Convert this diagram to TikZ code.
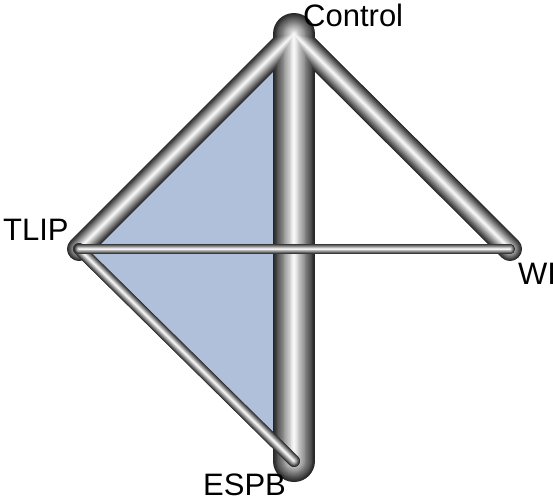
\documentclass[tikz,border=0pt]{standalone}
\usepackage{fontspec}
\setmainfont{Liberation Sans}
\definecolor{trifill}{HTML}{B0C0DA}
\begin{document}
\begin{tikzpicture}[x=1pt,y=-1pt,
  lbl/.style={inner sep=0pt, font=\fontsize{31}{37}\selectfont},
  tri/.style={fill=trifill},
  tube/.style={line cap=round}]
\useasboundingbox (0,0) rectangle (553,498);
\coordinate (C) at (294,34);
\coordinate (T) at (79,249);
\coordinate (W) at (510,249);
\coordinate (E) at (294,461);
\fill[tri] (C) -- (T) -- (E) -- cycle;
% main tubes, drawn level by level
\foreach \i in {0,...,23}{
  \pgfmathsetmacro\fr{1-\i/24}
  \pgfmathsetmacro\bri{1-0.85*\fr}
  \pgfmathsetmacro\wa{42*\fr}
  \pgfmathsetmacro\wb{24*\fr}
  \definecolor{lvl}{gray}{\bri}
  \draw[tube, lvl, line width=\wa pt] (C) -- (E);
  \draw[tube, lvl, line width=\wb pt] (C) -- (T);
  \draw[tube, lvl, line width=\wb pt] (C) -- (W);
}
\foreach \i in {0,...,23}{
  \pgfmathsetmacro\fr{1-\i/24}
  \pgfmathsetmacro\bri{1-0.85*\fr}
  \pgfmathsetmacro\wc{12*\fr}
  \definecolor{lvl}{gray}{\bri}
  \draw[tube, lvl, line width=\wc pt] (T) -- (E);
}
\foreach \i in {0,...,23}{
  \pgfmathsetmacro\fr{1-\i/24}
  \pgfmathsetmacro\bri{1-0.85*\fr}
  \pgfmathsetmacro\wd{10*\fr}
  \definecolor{lvl}{gray}{\bri}
  \draw[tube, lvl, line width=\wd pt] (T) -- (W);
}
\node[lbl, anchor=base west] (lc) at (303,26) {Control};
\node[lbl, anchor=base west] (lt) at (3,240) {TLIP};
\node[lbl, anchor=base west] (lw) at (518,284) {WI};
\node[lbl, anchor=base west] (le) at (203,495) {ESPB};
\end{tikzpicture}
\end{document}
